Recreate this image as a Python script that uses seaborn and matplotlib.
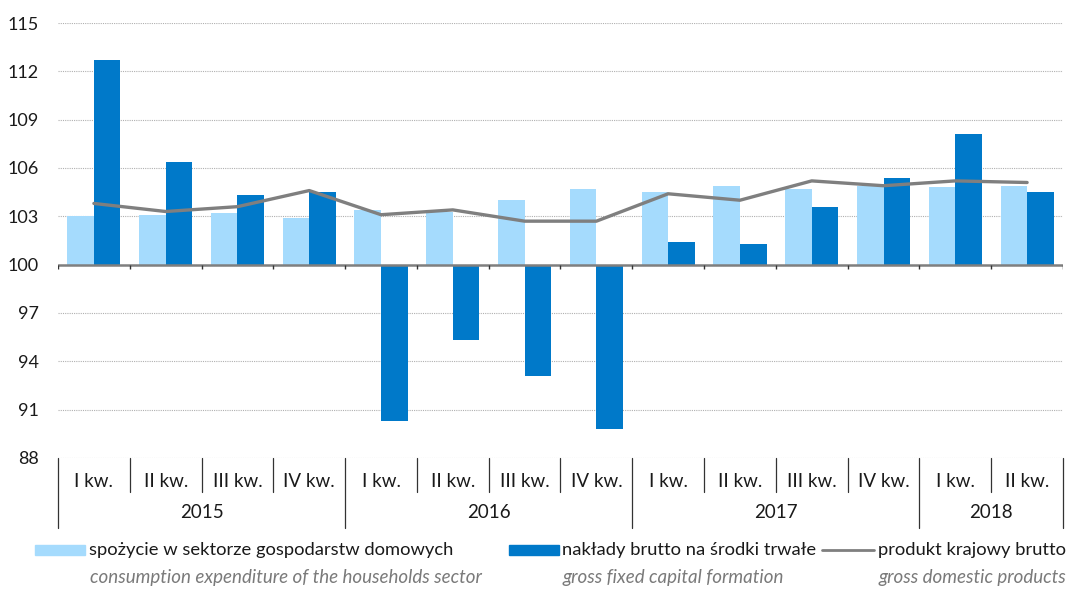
import numpy as np
import pandas as pd
import seaborn as sns
import matplotlib.pyplot as plt
from matplotlib.ticker import FuncFormatter
from matplotlib.lines import Line2D
from matplotlib.patches import Rectangle

### DATA ###
quarters = ['I kw.', 'II kw.', 'III kw.', 'IV kw.',
            'I kw.', 'II kw.', 'III kw.', 'IV kw.',
            'I kw.', 'II kw.', 'III kw.', 'IV kw.',
            'I kw.', 'II kw.']
years = ['2015', '2016', '2017', '2018']
year_len = [4, 4, 4, 2]

consumption = [103.0, 103.1, 103.2, 102.9, 103.4, 103.3, 104.0, 104.7,
               104.5, 104.9, 104.7, 104.9, 104.8, 104.9]
investment = [112.7, 106.4, 104.3, 104.5, 90.3, 95.3, 93.1, 89.8,
              101.4, 101.3, 103.6, 105.4, 108.1, 104.5]
gdp = [103.8, 103.3, 103.6, 104.6, 103.1, 103.4, 102.7, 102.7,
       104.4, 104.0, 105.2, 104.9, 105.2, 105.1]

pl_labels = ['spożycie w sektorze gospodarstw domowych',
             'nakłady brutto na środki trwałe',
             'produkt krajowy brutto']
en_labels = ['consumption expenditure of the households sector',
             'gross fixed capital formation',
             'gross domestic products']

BASE = 100  # index base, bars grow from here

### SETUP ###
sns.set_style('white')
plt.rcParams['font.family'] = ['Lato', 'DejaVu Sans']

light = '#A5DBFD'
dark = '#0079C9'
grey = '#7F7F7F'

n = len(quarters)
pos = [str(i) for i in range(n)]
df = pd.DataFrame({
    'pos': pos * 2,
    'series': [pl_labels[0]] * n + [pl_labels[1]] * n,
    'dev': [v - BASE for v in consumption] + [v - BASE for v in investment],
})

fig = plt.figure(figsize=(10.77, 5.9), dpi=100)
ax = fig.add_axes([58 / 1077, 1 - 458 / 590, (1063 - 58) / 1077, (458 - 23) / 590])

sns.barplot(data=df, x='pos', y='dev', hue='series', order=pos,
            hue_order=pl_labels[:2], palette=[light, dark], saturation=1,
            width=0.74, gap=0, linewidth=0, legend=False, ax=ax)
sns.lineplot(x=np.arange(n), y=[v - BASE for v in gdp], color=grey,
             linewidth=2.4, ax=ax, legend=False)

### AXES ###
ax.set_xlim(-0.5, n - 0.5)
ax.set_ylim(88 - BASE, 115 - BASE)
ax.set_yticks(np.arange(88, 116, 3) - BASE)
ax.yaxis.set_major_formatter(FuncFormatter(lambda v, p: f'{v + BASE:.0f}'))
ax.tick_params(axis='y', length=0, pad=14, labelsize=13, colors='#1a1a1a')
ax.yaxis.grid(True, linestyle=(0, (1, 1)), color='#b0b0b0', linewidth=0.8)
ax.set_axisbelow(True)
ax.set_xlabel('')
ax.set_ylabel('')
for s in ax.spines.values():
    s.set_visible(False)

# quarter labels on the x axis
ax.set_xticks(range(n))
ax.set_xticklabels(quarters)
ax.tick_params(axis='x', length=0, pad=11, labelsize=13.5, colors='#1a1a1a')

# base line at 100 with small ticks
ax.axhline(0, color=grey, linewidth=1.8, zorder=3)
ax.vlines(np.arange(n + 1) - 0.5, -0.3, 0, color='#333333', linewidth=1, zorder=3)

# category table below the plot
trans = ax.get_xaxis_transform()
bounds = np.cumsum([0] + year_len)
for i in range(n + 1):
    x = i - 0.5
    if i in bounds:
        y0 = -70 / 435
    else:
        y0 = -34 / 435
    ax.add_line(Line2D([x, x], [0, y0], transform=trans, color='#333333',
                       linewidth=0.9, clip_on=False))
for k, yr in enumerate(years):
    xc = (bounds[k] + bounds[k + 1]) / 2 - 0.5
    ax.text(xc, -55 / 435, yr, transform=trans, ha='center', va='center',
            fontsize=13.5, color='#1a1a1a')

### LEGEND ###
def fx(px):
    return px / 1077

def fy(py):
    return 1 - py / 590

entries = [(35, 85, 89, 'patch', light), (509, 559, 562, 'patch', dark),
           (822, 874, 878, 'line', grey)]
for (x0, x1, tx, kind, col), pl, en in zip(entries, pl_labels, en_labels):
    if kind == 'patch':
        fig.add_artist(Rectangle((fx(x0), fy(555)), fx(x1 - x0), 10 / 590,
                                 transform=fig.transFigure, color=col))
    else:
        fig.add_artist(Line2D([fx(x0), fx(x1)], [fy(550), fy(550)],
                              transform=fig.transFigure, color=col, linewidth=2))
    fig.text(fx(tx), fy(550), pl, ha='left', va='center', fontsize=13.2,
             color='#1a1a1a')
    fig.text(fx(tx + 1), fy(578), en, ha='left', va='center', fontsize=13.5,
             color='#7a7a7a', style='italic')

fig.savefig('out.png', dpi=100)
